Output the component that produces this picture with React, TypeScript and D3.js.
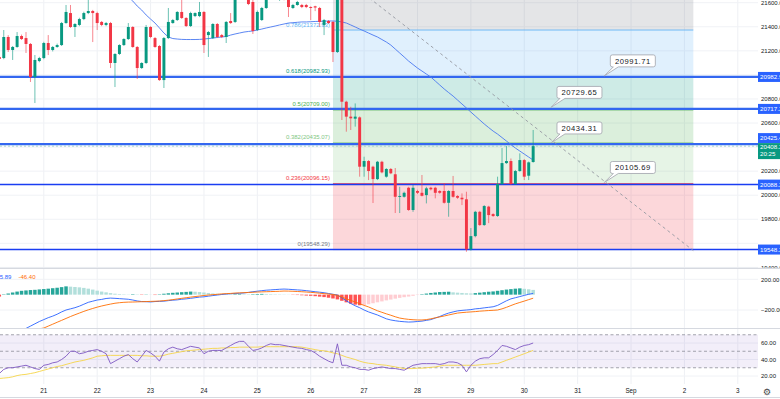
import React from 'react';
import * as d3 from 'd3';

const W = 780;
const H = 399;
const FONT = 'Liberation Sans, Arial, sans-serif';

// 2h candles, index 0 = Aug 21 00:00, first visible candle is index -10
const firstIndex = -10;

const opens = [
  21149, 21140, 21315, 21207, 21232, 21323, 21306, 21257, 20982, 21115,
  21140, 21265, 21207, 21232, 21248, 21431, 21514, 21398, 21415, 21464,
  21514, 21531, 21514, 21440, 21415, 21431, 21099, 21174, 21248, 21298,
  21398, 21232, 21057, 21099, 21398, 21306, 21240, 20957, 21306, 21431,
  21456, 21523, 21473, 21406, 21489, 21489, 21523, 21331, 21306, 21423,
  21331, 21315, 21448, 21440, 21660, 21700, 21650, 21606, 21373, 21456,
  21556, 21650, 21700, 21660, 21690, 21625, 21556, 21581, 21581, 21581,
  21564, 21570, 21556, 21415, 21448, 21440, 21190, 21660, 20777, 20653,
  20636, 20647, 20237, 20284, 20237, 20134, 20278, 20154, 20218, 20174,
  19987, 19987, 20062, 19877, 20035, 20020, 20001, 20062, 20062, 20035,
  20035, 19937, 20035, 19993, 19979, 19966, 19550, 19660, 19862, 19752,
  19905, 19843, 19827, 20093, 20267, 20284, 20093, 20201, 20292, 20162,
  20276,
];
const highs = [
  21160, 21373, 21330, 21240, 21356, 21335, 21356, 21265, 21165, 21150,
  21275, 21331, 21240, 21260, 21440, 21581, 21581, 21430, 21475, 21525,
  21640, 21540, 21525, 21448, 21440, 21440, 21180, 21255, 21305, 21431,
  21405, 21240, 21105, 21415, 21405, 21315, 21248, 21315, 21556, 21465,
  21530, 21625, 21480, 21525, 21520, 21606, 21530, 21365, 21430, 21431,
  21340, 21448, 21514, 21690, 21720, 21720, 21670, 21630, 21535, 21565,
  21670, 21730, 21720, 21720, 21710, 21640, 21590, 21615, 21590, 21590,
  21570, 21575, 21565, 21465, 21456, 21448, 21700, 21680, 20785, 20735,
  20763, 20655, 20320, 20292, 20245, 20285, 20286, 20225, 20226, 20226,
  20070, 20030, 20070, 20085, 20045, 20168, 20070, 20070, 20070, 20042,
  20100, 20042, 20160, 20000, 20015, 20029, 19727, 19870, 19870, 19918,
  19912, 19850, 20154, 20392, 20409, 20305, 20210, 20348, 20300, 20280,
  20542,
];
const lows = [
  21120, 21130, 21190, 21124, 21225, 21290, 21182, 20941, 20766, 21105,
  21130, 21165, 21195, 21225, 21240, 21425, 21390, 21315, 21405, 21455,
  21505, 21273, 21373, 21405, 21405, 21057, 20899, 21165, 21240, 21290,
  21225, 20966, 21050, 21090, 21305, 21225, 20950, 20891, 21298, 21425,
  21448, 21465, 21398, 21398, 21480, 21480, 21182, 21149, 21298, 21306,
  21306, 21265, 21423, 21431, 21640, 21640, 21580, 21340, 21365, 21448,
  21548, 21630, 21640, 21615, 21620, 21481, 21548, 21575, 21555, 21555,
  21456, 21530, 21398, 21331, 21423, 21107, 21182, 20625, 20528, 20542,
  20570, 20154, 20154, 20126, 19935, 20126, 20182, 20146, 20175, 19852,
  19852, 19980, 19870, 19862, 20010, 19990, 19932, 20040, 19974, 20012,
  19930, 19821, 19980, 19970, 19918, 19530, 19540, 19650, 19745, 19745,
  19768, 19820, 19820, 20085, 20260, 20085, 20085, 20195, 20126, 20126,
  20270,
];
const closes = [
  21132, 21315, 21207, 21232, 21323, 21298, 21257, 20982, 21124, 21140,
  21265, 21207, 21232, 21248, 21431, 21523, 21398, 21423, 21464, 21514,
  21531, 21514, 21431, 21415, 21431, 21099, 21174, 21248, 21298, 21398,
  21232, 21057, 21099, 21398, 21315, 21232, 20957, 21306, 21440, 21456,
  21523, 21473, 21406, 21514, 21514, 21523, 21248, 21356, 21423, 21315,
  21315, 21440, 21431, 21660, 21700, 21650, 21589, 21365, 21523, 21556,
  21650, 21700, 21660, 21700, 21640, 21564, 21581, 21606, 21564, 21564,
  21556, 21560, 21440, 21456, 21431, 21190, 21660, 20777, 20653, 20639,
  20653, 20237, 20284, 20201, 20134, 20278, 20190, 20218, 20182, 19987,
  19993, 20020, 19877, 20062, 20020, 19995, 20057, 20049, 20020, 20020,
  19937, 20035, 19987, 19979, 19966, 19550, 19660, 19862, 19752, 19910,
  19835, 19827, 20093, 20267, 20284, 20093, 20201, 20292, 20154, 20273,
  20408,
];

// moving average on price, visible from candle 19
const maStart = 19;
const maValues = [
  21647, 21614, 21572, 21539, 21498, 21464, 21431, 21390, 21348, 21315,
  21302, 21298, 21295, 21294, 21294, 21294, 21295, 21298, 21302, 21306,
  21311, 21315, 21319, 21331, 21340, 21348, 21356, 21361, 21365, 21373,
  21381, 21390, 21398, 21406, 21415, 21423, 21431, 21434, 21437, 21440,
  21440, 21442, 21444, 21445, 21446, 21448, 21448, 21446, 21440, 21431,
  21415, 21398, 21381, 21365, 21348, 21331, 21315, 21294, 21273, 21248,
  21215, 21182, 21149, 21115, 21086, 21057, 21032, 21007, 20982, 20949,
  20916, 20883, 20853, 20824, 20791, 20758, 20725, 20691, 20658, 20625,
  20592, 20562, 20533, 20508, 20479, 20450, 20421, 20392, 20367, 20342,
  20317, 20292,
];

const macdLine = [
  -600, -580, -555, -525, -495, -465, -440, -410, -380, -350,
  -325, -300, -280, -255, -225, -200, -185, -170, -150, -125,
  -100, -85, -70, -62, -50, -45, -48, -52, -56, -60,
  -70, -82, -90, -92, -95, -90, -88, -85, -78, -72,
  -68, -60, -55, -48, -40, -32, -28, -20, -12, -5,
  2, 8, 12, 15, 18, 22, 30, 38, 45, 52,
  58, 62, 66, 70, 73, 70, 66, 62, 58, 52,
  45, 38, 32, 25, 15, 5, -5, -40, -80, -115,
  -145, -170, -200, -225, -245, -265, -290, -315, -330, -340,
  -348, -353, -357, -355, -350, -345, -335, -325, -305, -285,
  -260, -240, -225, -212, -205, -200, -195, -185, -180, -172,
  -165, -158, -140, -110, -80, -55, -40, -25, -10, 5,
  15.89,
];
const signalLine = [
  -620, -600, -580, -560, -540, -520, -500, -480, -460, -445,
  -435, -410, -385, -360, -335, -310, -285, -262, -240, -218,
  -198, -180, -163, -148, -135, -123, -112, -105, -100, -97,
  -96, -94, -92, -90, -88, -86, -83, -78, -72, -65,
  -56, -48, -40, -32, -25, -18, -11, -5, 0, 4,
  10, 13, 16, 21, 23, 26, 28, 31, 34, 36,
  38, 40, 42, 44, 47, 46, 44, 41, 38, 34,
  30, 25, 19, 13, 8, 2, -10, -31, -55, -75,
  -96, -118, -140, -160, -185, -210, -230, -250, -268, -288,
  -305, -315, -322, -327, -330, -330, -325, -315, -302, -290,
  -278, -265, -252, -240, -234, -229, -225, -221, -215, -211,
  -207, -204, -200, -185, -165, -142, -120, -102, -84, -65,
  -46.4,
];
const macdHist = [
  -25, 5, 15, 28, 40, 50, 55, 60, 63, 68,
  73, 78, 84, 90, 98, 108, 104, 100, 95, 88,
  78, 66, 52, 40, 30, 20, 12, 8, 5, 3,
  6, 4, -4, 3, 2, -5, 5, 12, 18, 24,
  28, 32, 36, 40, 38, 34, 28, 22, 16, 12,
  8, 6, 5, 6, 7, 6, 5, 6, 8, 10,
  9, 7, 5, 4, 3, 2, -3, -5, -8, -12,
  -15, -20, -26, -32, -40, -50, -62, -80, -100, -118,
  -130, -138, -135, -125, -112, -100, -88, -75, -64, -52,
  -42, -33, -25, -15, -5, 6, 14, 22, 28, 34,
  36, 38, 30, 26, 22, 18, 16, 20, 26, 32,
  38, 42, 50, 58, 66, 72, 78, 82, 76, 70,
  62,
];

const rsiValues = [
  23, 28, 30, 30, 31, 32, 33, 31, 29, 28,
  33, 34, 36, 37, 40, 44, 50, 50, 47, 48,
  50, 51, 52, 50, 47, 35, 38, 41, 44, 46,
  41, 37, 44, 51, 48, 44, 38, 49, 53, 55,
  53, 52, 54, 56, 55, 54, 47, 50, 51, 51,
  51, 54, 57, 60, 62, 62, 56, 51, 52, 54,
  57, 59, 58, 58, 57, 56, 55, 54, 53.5, 52,
  51, 48, 44, 41, 38, 36, 59, 33, 33, 31,
  30, 28, 28, 27, 29, 30, 31, 30, 29, 29,
  28, 27, 30, 33, 34, 35, 35, 35, 35, 34,
  35, 37, 37, 36, 33, 25, 33, 38, 41, 42,
  42, 46, 51, 57, 56, 54, 52, 55, 57, 58,
  60,
];
const rsiMa = [
  17, 17.5, 18, 19, 20.5, 21.5, 22, 23, 24, 25.5,
  27, 28.5, 30, 31.5, 32.5, 34, 35.5, 37, 38, 39,
  40.5, 42, 44, 44.5, 45, 45, 45, 45, 45, 45,
  45, 45, 44.5, 44.5, 44, 44, 44, 45, 46.5, 47.5,
  48.5, 49.5, 50.5, 51, 51.5, 52, 52.5, 53, 53.5, 53.5,
  54, 54, 54.5, 54.5, 55, 55, 55, 55, 55, 55.5,
  55.5, 55.5, 55.5, 55.5, 55.5, 55.5, 55.5, 55.5, 55, 54,
  53, 52, 51, 50.5, 49.5, 48, 47, 45, 43, 41.5,
  40, 38, 36.5, 35.5, 35, 34, 33.5, 33, 32, 31,
  30, 29, 29, 29, 29.5, 29.5, 30, 30.5, 31, 32,
  33, 33, 33, 33, 33, 33, 33, 33, 33.5, 34,
  34.5, 35, 35, 37, 39, 41, 43, 45, 47, 49,
  51,
];

const dayLabels = ['21', '22', '23', '24', '25', '26', '27', '28', '29', '30', '31', 'Sep', '2', '3'];
const priceTicks = [21600, 21400, 21200, 21000, 20800, 20600, 20400, 20200, 20000, 19800, 19600, 19400];
const macdTicks = [200, -200];
const rsiTicks = [60, 40, 20];
const rsiBands = [70, 50, 30];

const horizontalLines = [20982.93, 20717.2, 20425.4, 20088.2, 19548.29];
const fibLow = 19548.29;
const fibHigh = 21869.71;
const fibLevels = [0, 0.236, 0.382, 0.5, 0.618, 0.786, 1];
const fibStartIndex = 65;
const fibEndIndex = 146;
const trendStart = { k: 70, price: 21730 };
const trendEnd = { k: 146, price: 19540 };
const priceNotes = [
  { k: 126, price: 20991.71 },
  { k: 114, price: 20729.65 },
  { k: 114, price: 20434.31 },
  { k: 126, price: 20105.69 },
];
const lastPrice = 20408.2;
const countdown = '20:25';

const fibColors = ['#787b86', '#f23645', '#81c784', '#4caf50', '#089981', '#64b5f6', '#787b86'];
const UP = '#089981';
const DOWN = '#f23645';

const x = d3.scaleLinear().domain([0, 156]).range([43.8, 737.8]);
const yMain = d3.scaleLinear().domain([19400, 21600]).range([267.4, 2.7]);
const yMacd = d3.scaleLinear().domain([-200, 200]).range([310, 279.3]);
const yRsi = d3.scaleLinear().domain([20, 60]).range([376, 343]);

const PLOT_R = 758;

function noteShape(ax: number, ay: number) {
  const x0 = ax + 6, x1 = ax + 51, y0 = ay - 21, y1 = ay - 9, r = 2;
  return `M${x0 + r},${y0} H${x1 - r} Q${x1},${y0} ${x1},${y0 + r} V${y1 - r} Q${x1},${y1} ${x1 - r},${y1}` +
    ` H${ax + 14} L${ax},${ay} L${ax + 9},${y1} H${x0 + r} Q${x0},${y1} ${x0},${y1 - r} V${y0 + r} Q${x0},${y0} ${x0 + r},${y0} Z`;
}

export default function App() {
  const candles = opens.map((o, i) => ({
    k: i + firstIndex, o, h: highs[i], l: lows[i], c: closes[i],
  }));
  const bodyW = (x(1) - x(0)) * 0.66;
  const histW = (x(1) - x(0)) * 0.78;

  const idxLine = (scale: d3.ScaleLinear<number, number>, start: number) =>
    d3.line<number>().x((_, i) => x(i + start)).y((v) => scale(v));

  const fibPrice = (lv: number) => fibLow + (fibHigh - fibLow) * lv;
  const fx0 = x(fibStartIndex);
  const fx1 = x(fibEndIndex);

  const lineStyles = [
    { w: 2.2, c: '#3367f0' }, { w: 2.2, c: '#3367f0' }, { w: 2.2, c: '#3367f0' },
    { w: 1.5, c: '#1a3df2' }, { w: 1.5, c: '#1a3df2' },
  ];
  const lastY = yMain(lastPrice);

  // right-axis boxes; a tick label hidden behind a box is not drawn
  const boxes = horizontalLines.map((p) => {
    let cy = yMain(p);
    if (Math.abs(cy - lastY) < 10) cy = lastY - 8;
    return { p, top: cy - 5, bottom: cy + 5 };
  });
  boxes.push({ p: lastPrice, top: lastY - 3, bottom: lastY + 13 });
  const freeTicks = priceTicks.filter((p) => {
    const ty = yMain(p);
    return !boxes.some((b) => ty > b.top - 3 && ty < b.bottom + 3);
  });

  return (
    <svg width={W} height={H} style={{ position: 'absolute', left: 0, top: 0, background: '#fff' }} fontFamily={FONT}>
      <defs>
        <clipPath id="cMain"><rect x={0} y={0} width={PLOT_R} height={268} /></clipPath>
        <clipPath id="cMacd"><rect x={0} y={268.5} width={PLOT_R} height={59.5} /></clipPath>
        <clipPath id="cRsi"><rect x={0} y={329} width={PLOT_R} height={55} /></clipPath>
        <clipPath id="cAxis"><rect x={PLOT_R} y={0} width={W - PLOT_R} height={268} /></clipPath>
      </defs>
      <rect width={W} height={H} fill="#fff" />

      {/* vertical grid */}
      {dayLabels.map((_, i) => (
        <line key={'vg' + i} x1={x(i * 12)} x2={x(i * 12)} y1={0} y2={384} stroke="#eef0f4" strokeWidth={1} />
      ))}
      {/* horizontal grids */}
      {priceTicks.map((p) => (
        <line key={'hg' + p} x1={0} x2={PLOT_R} y1={yMain(p)} y2={yMain(p)} stroke="#f0f2f6" />
      ))}
      {macdTicks.map((v) => (
        <line key={'mg' + v} x1={0} x2={PLOT_R} y1={yMacd(v)} y2={yMacd(v)} stroke="#f0f2f6" />
      ))}
      {rsiTicks.map((v) => (
        <line key={'rg' + v} x1={0} x2={PLOT_R} y1={yRsi(v)} y2={yRsi(v)} stroke="#f0f2f6" />
      ))}

      {/* main pane */}
      <g clipPath="url(#cMain)">
        {fibLevels.slice(1).map((lv, i) => {
          const yTop = yMain(fibPrice(lv));
          const yBot = yMain(fibPrice(fibLevels[i]));
          return (
            <rect key={'fz' + lv} x={fx0} width={fx1 - fx0} y={yTop} height={yBot - yTop}
              fill={fibColors[i + 1]} fillOpacity={0.2} />
          );
        })}
        {fibLevels.map((lv, i) => (
          <line key={'fl' + lv} x1={fx0} x2={fx1} y1={yMain(fibPrice(lv))} y2={yMain(fibPrice(lv))}
            stroke={fibColors[i]} strokeWidth={0.9} />
        ))}
        {fibLevels.slice(0, 6).map((lv, i) => (
          <text key={'ft' + lv} x={fx0 - 3} y={yMain(fibPrice(lv)) - 3.5} textAnchor="end" fontSize={6}
            fill={fibColors[i]}>{`${lv}(${fibPrice(lv).toFixed(2)})`}</text>
        ))}

        {horizontalLines.map((p, i) => (
          <line key={'hl' + p} x1={0} x2={PLOT_R} y1={yMain(p)} y2={yMain(p)}
            stroke={lineStyles[i].c} strokeWidth={lineStyles[i].w} />
        ))}
        <line x1={0} x2={PLOT_R} y1={lastY} y2={lastY} stroke="#8fc9bb" strokeWidth={0.8} strokeDasharray="2,2" />

        <line x1={x(trendStart.k)} y1={yMain(trendStart.price)} x2={x(trendEnd.k)} y2={yMain(trendEnd.price)}
          stroke="#9598a1" strokeWidth={0.9} strokeDasharray="3,3" />

        <path d={idxLine(yMain, maStart)(maValues) || ''} fill="none" stroke="#4a78f0" strokeWidth={0.9} />

        {candles.map((d) => {
          const up = d.c >= d.o;
          const col = up ? UP : DOWN;
          const yt = yMain(Math.max(d.o, d.c));
          const yb = yMain(Math.min(d.o, d.c));
          return (
            <g key={'c' + d.k}>
              <line x1={x(d.k)} x2={x(d.k)} y1={yMain(d.h)} y2={yMain(d.l)} stroke={col} strokeWidth={0.8} strokeOpacity={0.75} />
              <rect x={x(d.k) - bodyW / 2} width={bodyW} y={yt} height={Math.max(0.9, yb - yt)} fill={col} />
            </g>
          );
        })}

        {priceNotes.map((n) => {
          const ax = x(n.k);
          const ay = yMain(n.price);
          return (
            <g key={'pn' + n.price}>
              <path d={noteShape(ax, ay)} fill="#fff" stroke="#a9acb3" strokeWidth={0.9} />
              <text x={ax + 28.5} y={ay - 12.3} textAnchor="middle" fontSize={7.6} fill="#131722"
                letterSpacing={0.5}>{n.price.toFixed(2)}</text>
            </g>
          );
        })}
      </g>

      {/* price axis */}
      <g clipPath="url(#cAxis)">
        {freeTicks.map((p) => (
          <text key={'pt' + p} x={761} y={yMain(p) + 2.2} fontSize={6} fill="#131722">{p.toFixed(2)}</text>
        ))}
      </g>
      {boxes.slice(0, horizontalLines.length).map((b) => (
        <g key={'hlab' + b.p}>
          <rect x={PLOT_R} y={b.top} width={W - PLOT_R} height={10} fill="#2962ff" />
          <text x={760} y={b.top + 7.3} fontSize={6.2} fill="#fff">{b.p.toFixed(2)}</text>
        </g>
      ))}
      <rect x={PLOT_R} y={lastY - 3} width={W - PLOT_R} height={16} fill={UP} />
      <text x={760} y={lastY + 3.3} fontSize={6.2} fill="#fff">{lastPrice.toFixed(2)}</text>
      <text x={760} y={lastY + 10.3} fontSize={6.2} fill="#fff">{countdown}</text>

      {/* pane separators */}
      <line x1={0} x2={W} y1={268.3} y2={268.3} stroke="#d6d9e0" strokeWidth={1.2} />
      <line x1={0} x2={W} y1={328.5} y2={328.5} stroke="#d6d9e0" strokeWidth={1.2} />
      <line x1={0} x2={W} y1={397.5} y2={397.5} stroke="#d6d9e0" strokeWidth={1.2} />

      {/* MACD pane */}
      <g clipPath="url(#cMacd)">
        {macdHist.map((v, i) => {
          const prev = i > 0 ? macdHist[i - 1] : v;
          const col = v >= 0 ? (v >= prev ? '#26a69a' : '#b2dfdb') : (v <= prev ? '#ff5252' : '#ffcdd2');
          const y0 = yMacd(0);
          const y1 = yMacd(v);
          return (
            <rect key={'h' + i} x={x(i + firstIndex) - histW / 2} width={histW}
              y={Math.min(y0, y1)} height={Math.abs(y1 - y0)} fill={col} />
          );
        })}
        <path d={idxLine(yMacd, firstIndex)(macdLine) || ''} fill="none" stroke="#2962ff" strokeWidth={0.9} />
        <path d={idxLine(yMacd, firstIndex)(signalLine) || ''} fill="none" stroke="#ff6d00" strokeWidth={0.9} />
      </g>
      <text x={-3.6} y={279} fontSize={6} fill="#2962ff">{macdLine[macdLine.length - 1].toFixed(2)}</text>
      <text x={18.5} y={279} fontSize={6} fill="#ff6d00">{signalLine[signalLine.length - 1].toFixed(2)}</text>
      {macdTicks.map((v) => (
        <text key={'mt' + v} x={761} y={yMacd(v) + 2.2} fontSize={6} fill="#131722">
          {(v < 0 ? '\u2212' : '') + Math.abs(v).toFixed(2)}
        </text>
      ))}

      {/* RSI pane */}
      <rect x={0} y={yRsi(rsiBands[0])} width={PLOT_R} height={yRsi(rsiBands[2]) - yRsi(rsiBands[0])}
        fill="#7e57c2" fillOpacity={0.1} />
      {rsiBands.map((v) => (
        <line key={'rb' + v} x1={0} x2={PLOT_R} y1={yRsi(v)} y2={yRsi(v)} stroke="#8d8f99"
          strokeWidth={0.8} strokeDasharray="3,2.5" />
      ))}
      <g clipPath="url(#cRsi)">
        <path d={idxLine(yRsi, firstIndex)(rsiMa) || ''} fill="none" stroke="#f5d547" strokeWidth={0.9} />
        <path d={idxLine(yRsi, firstIndex)(rsiValues) || ''} fill="none" stroke="#7e57c2" strokeWidth={0.9} />
      </g>
      {rsiTicks.map((v) => (
        <text key={'rt' + v} x={761} y={yRsi(v) + 2.2} fontSize={6} fill="#131722">{v.toFixed(2)}</text>
      ))}

      {/* time axis */}
      {dayLabels.map((lab, i) => (
        <text key={'dl' + i} x={x(i * 12)} y={393} textAnchor="middle" fontSize={6.3} fill="#131722">{lab}</text>
      ))}
      <text x={767} y={394.5} textAnchor="middle" fontSize={9} fill="#444" fontFamily="DejaVu Sans">{'\u2699'}</text>
    </svg>
  );
}
